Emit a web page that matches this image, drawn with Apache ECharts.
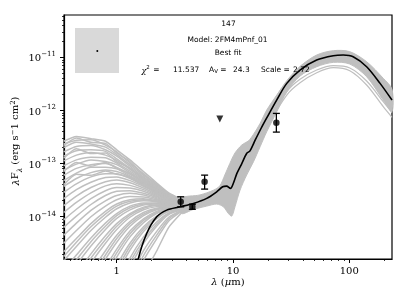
<!DOCTYPE html>
<html><head><meta charset="utf-8">
<script src="https://cdn.jsdelivr.net/npm/echarts/dist/echarts.min.js"></script>
<style>html,body{margin:0;padding:0;background:#fff}#c{width:406px;height:303px}</style>
</head><body><div id="c"></div>
<script>
// ---- axis ranges (wavelength in micron, flux in erg s^-1 cm^-2) ----
const xRange = [0.352, 233];
const yRange = [1.6e-15, 6.27e-11];
const xTickValues = [1, 10, 100];
const xTickLabels = ['1', '10', '100'];
const xMinorTicks = [0.4,0.5,0.6,0.7,0.8,0.9,2,3,4,5,6,7,8,9,20,30,40,50,60,70,80,90,200];
const yTickExponents = [-14, -13, -12, -11];
const yMinorTicks = [2e-15,3e-15,4e-15,5e-15,6e-15,7e-15,8e-15,9e-15,
  2e-14,3e-14,4e-14,5e-14,6e-14,7e-14,8e-14,9e-14,
  2e-13,3e-13,4e-13,5e-13,6e-13,7e-13,8e-13,9e-13,
  2e-12,3e-12,4e-12,5e-12,6e-12,7e-12,8e-12,9e-12,
  2e-11,3e-11,4e-11,5e-11,6e-11];

// ---- short-wavelength fan of model SEDs (log10 of lambda F_lambda) ----
const fanWave = [0.35,0.45,0.6,0.8,1.0,1.3,1.7,2.2,2.8,3.6];
const fanLines = [
  [-12.58,-12.49,-12.53,-12.58,-12.74,-12.93,-13.15,-13.36,-13.55,-13.67],
  [-12.63,-12.56,-12.55,-12.65,-12.78,-12.99,-13.19,-13.39,-13.57,-13.69],
  [-12.66,-12.52,-12.60,-12.62,-12.80,-12.96,-13.21,-13.38,-13.58,-13.69],
  [-12.70,-12.60,-12.63,-12.69,-12.83,-13.02,-13.22,-13.41,-13.59,-13.70],
  [-12.78,-12.68,-12.66,-12.74,-12.86,-13.05,-13.25,-13.43,-13.60,-13.71],
  [-12.86,-12.76,-12.74,-12.77,-12.91,-13.09,-13.27,-13.45,-13.61,-13.71],
  [-12.90,-12.72,-12.81,-12.80,-12.97,-13.08,-13.30,-13.46,-13.62,-13.72],
  [-12.95,-12.84,-12.79,-12.84,-12.94,-13.11,-13.29,-13.46,-13.62,-13.72],
  [-13.04,-12.93,-12.88,-12.89,-12.99,-13.14,-13.31,-13.48,-13.63,-13.72],
  [-13.12,-13.01,-12.93,-12.96,-13.02,-13.17,-13.33,-13.49,-13.64,-13.73],
  [-13.15,-12.98,-13.05,-12.98,-13.09,-13.19,-13.36,-13.50,-13.65,-13.73],
  [-13.22,-13.09,-13.02,-13.00,-13.07,-13.20,-13.35,-13.51,-13.65,-13.73],
  [-13.32,-13.18,-13.07,-13.07,-13.10,-13.23,-13.37,-13.52,-13.66,-13.74],
  [-13.40,-13.20,-13.22,-13.14,-13.20,-13.26,-13.42,-13.54,-13.67,-13.74],
  [-13.43,-13.28,-13.17,-13.12,-13.15,-13.25,-13.39,-13.53,-13.67,-13.74],
  [-13.54,-13.38,-13.25,-13.19,-13.19,-13.28,-13.41,-13.55,-13.68,-13.75],
  [-13.66,-13.49,-13.35,-13.26,-13.25,-13.32,-13.43,-13.56,-13.68,-13.75],
  [-13.79,-13.61,-13.45,-13.34,-13.31,-13.36,-13.46,-13.58,-13.69,-13.76],
  [-13.92,-13.73,-13.55,-13.42,-13.38,-13.41,-13.49,-13.60,-13.70,-13.76],
  [-14.06,-13.86,-13.66,-13.51,-13.45,-13.46,-13.52,-13.62,-13.71,-13.77],
  [-14.20,-13.99,-13.77,-13.60,-13.52,-13.51,-13.56,-13.64,-13.72,-13.77],
  [-14.35,-14.12,-13.88,-13.70,-13.60,-13.56,-13.59,-13.66,-13.73,-13.78],
  [-14.50,-14.26,-14.00,-13.80,-13.68,-13.62,-13.63,-13.68,-13.74,-13.78],
  [-14.66,-14.41,-14.13,-13.90,-13.76,-13.68,-13.66,-13.70,-13.75,-13.79],
  [-14.75,-14.48,-14.19,-13.95,-13.80,-13.71,-13.68,-13.71,-13.75,-13.79],
  [-14.83,-14.56,-14.26,-14.01,-13.85,-13.74,-13.70,-13.72,-13.76,-13.79],
  [-15.00,-14.72,-14.40,-14.12,-13.94,-13.80,-13.74,-13.74,-13.77,-13.80],
  [-15.10,-14.81,-14.47,-14.18,-13.98,-13.83,-13.76,-13.75,-13.77,-13.80],
  [-15.20,-14.90,-14.55,-14.24,-14.03,-13.87,-13.78,-13.76,-13.78,-13.80],
  [-15.40,-15.08,-14.70,-14.36,-14.13,-13.94,-13.82,-13.78,-13.79,-13.81],
  [-15.52,-15.18,-14.78,-14.43,-14.18,-13.97,-13.84,-13.79,-13.79,-13.81],
  [-15.65,-15.28,-14.87,-14.50,-14.24,-14.01,-13.87,-13.81,-13.80,-13.81],
  [-15.90,-15.50,-15.05,-14.64,-14.35,-14.09,-13.92,-13.84,-13.81,-13.82],
  [-16.05,-15.62,-15.15,-14.72,-14.41,-14.13,-13.95,-13.85,-13.82,-13.82],
  [-16.20,-15.75,-15.25,-14.80,-14.48,-14.18,-13.98,-13.87,-13.83,-13.82],
  [-16.50,-16.00,-15.45,-14.96,-14.61,-14.27,-14.04,-13.90,-13.84,-13.83],
  [-16.68,-16.15,-15.58,-15.05,-14.68,-14.32,-14.07,-13.92,-13.85,-13.83],
  [-16.85,-16.30,-15.70,-15.15,-14.76,-14.38,-14.11,-13.94,-13.86,-13.83],
  [-17.20,-16.60,-15.95,-15.35,-14.92,-14.50,-14.19,-13.99,-13.88,-13.84],
  [-17.40,-16.78,-16.10,-15.46,-15.01,-14.56,-14.23,-14.01,-13.89,-13.84],
  [-17.60,-16.95,-16.25,-15.58,-15.10,-14.63,-14.28,-14.04,-13.90,-13.85],
  [-18.00,-17.30,-16.55,-15.82,-15.30,-14.78,-14.38,-14.10,-13.93,-13.86],
  [-18.25,-17.50,-16.72,-15.96,-15.41,-14.86,-14.44,-14.14,-13.94,-13.86],
  [-18.50,-17.70,-16.90,-16.10,-15.52,-14.95,-14.50,-14.18,-13.96,-13.87],
  [-19.00,-18.20,-17.30,-16.40,-15.78,-15.15,-14.64,-14.28,-14.01,-13.88],
  [-19.30,-18.45,-17.50,-16.60,-15.94,-15.27,-14.73,-14.35,-14.04,-13.89],
  [-19.60,-18.70,-17.70,-16.80,-16.10,-15.40,-14.82,-14.42,-14.08,-13.90],
  [-20.50,-19.50,-18.40,-17.40,-16.60,-15.80,-15.10,-14.65,-14.20,-13.93]
];

// ---- envelope of model SEDs at longer wavelengths (log10 flux) ----
const bandUpperWave = [3.6,5.2,6.8,7.7,8.5,9.4,10.4,11.9,13.6,15.0,17.1,19.5,23.8,29.0,37.7,52.5,73,101,141,196,233];
const bandUpperFlux = [-13.655,-13.59,-13.50,-13.42,-13.216,-12.996,-12.80,-12.65,-12.57,-12.45,-12.243,-11.992,-11.709,-11.44,-11.17,-10.956,-10.874,-10.893,-11.082,-11.395,-11.603];
const bandLowerWave = [3.6,4.56,5.94,7.24,8.26,9.12,9.75,10.4,11.5,13.1,15.0,17.1,19.5,23.8,29.0,37.7,52.5,73,101,141,196,233];
const bandLowerFlux = [-13.938,-13.863,-13.800,-13.762,-13.812,-13.938,-13.988,-13.812,-13.498,-13.216,-12.965,-12.682,-12.400,-12.023,-11.65,-11.352,-11.176,-11.094,-11.126,-11.364,-11.804,-12.023];

// ---- two separate faint models in the far-IR ----
const sepWave = [19.5,29.0,37.7,52.5,73,101,141,196,233];
const sepFluxA = [-12.31,-11.709,-11.477,-11.289,-11.195,-11.251,-11.521,-11.929,-12.130];
const sepFluxB = [-12.25,-11.647,-11.414,-11.239,-11.157,-11.201,-11.446,-11.835,-12.042];

// ---- best fit model (log10 flux) ----
const bestWave = [1.40,1.53,1.81,2.21,2.69,3.50,4.56,5.94,7.24,8.15,8.8,9.5,10.07,10.8,11.9,13.1,14.0,15.5,17.5,19.5,23.8,29.0,37.7,52.4,72.8,88.7,108,141,184,233];
const bestFlux = [-15.3,-14.80,-14.315,-14.002,-13.876,-13.814,-13.750,-13.655,-13.531,-13.437,-13.424,-13.467,-13.37,-13.185,-13.0,-12.81,-12.76,-12.56,-12.33,-12.14,-11.80,-11.49,-11.239,-11.051,-10.970,-10.957,-10.989,-11.177,-11.490,-11.804];

// ---- observed fluxes (log10) ----
const obsWave = [3.55, 4.47, 5.7, 23.6];
const obsFlux = [-13.719, -13.813, -13.343, -12.232];
const obsLow  = [-13.814, -13.86, -13.480, -12.407];
const obsHigh = [-13.625, -13.765, -13.217, -12.055];
const limWave = [7.7];
const limFlux = [-12.162];

const L = Math.log10;
const pair = (w, f) => w.map((x, i) => [L(x), f[i]]);
const GRAY = '#bfbfbf';
const SERIF = 'DejaVu Serif';
const SANS = 'DejaVu Sans';

const series = [];
fanLines.forEach(f => series.push({
  type: 'line', data: pair(fanWave, f), showSymbol: false, smooth: 0.2,
  lineStyle: {color: GRAY, width: 1.5}, z: 1, silent: true, animation: false, clip: true
}));
const bandPts = pair(bandUpperWave, bandUpperFlux).concat(pair(bandLowerWave, bandLowerFlux).reverse());
series.push({
  type: 'custom', data: [[0, 0]], z: 1, silent: true, animation: false,
  renderItem: (p, api) => ({type: 'polygon', shape: {points: bandPts.map(q => api.coord(q)), smooth: 0.3},
    style: {fill: GRAY, stroke: GRAY, lineWidth: 1}})
});
[sepFluxA, sepFluxB].forEach(f => series.push({
  type: 'line', data: pair(sepWave, f), showSymbol: false, smooth: 0.3,
  lineStyle: {color: GRAY, width: 1.2}, z: 1, silent: true, animation: false
}));
series.push({
  type: 'line', data: pair(bestWave, bestFlux), showSymbol: false, smooth: 0.3,
  lineStyle: {color: '#000', width: 1.6}, z: 3, silent: true, animation: false, clip: true
});
series.push({
  type: 'custom', z: 4, silent: true, animation: false,
  data: obsWave.map((w, i) => [L(w), obsLow[i], obsHigh[i]]),
  renderItem: (p, api) => {
    const a = api.coord([api.value(0), api.value(1)]);
    const b = api.coord([api.value(0), api.value(2)]);
    const st = {stroke: '#000', lineWidth: 1.3};
    return {type: 'group', children: [
      {type: 'line', shape: {x1: a[0], y1: a[1], x2: b[0], y2: b[1]}, style: st},
      {type: 'line', shape: {x1: a[0]-3.5, y1: a[1], x2: a[0]+3.5, y2: a[1]}, style: st},
      {type: 'line', shape: {x1: b[0]-3.5, y1: b[1], x2: b[0]+3.5, y2: b[1]}, style: st}
    ]};
  }
});
series.push({
  type: 'scatter', data: pair(obsWave, obsFlux), symbol: 'circle', symbolSize: 6.5,
  itemStyle: {color: '#000'}, z: 5, silent: true, animation: false
});
series.push({
  type: 'scatter', data: pair(limWave, limFlux), symbol: 'triangle', symbolRotate: 180, symbolSize: 7,
  itemStyle: {color: '#000'}, z: 5, silent: true, animation: false
});

const yLabelRich = {
  b: {fontSize: 10, fontFamily: SERIF, color: '#000', verticalAlign: 'bottom'},
  s: {fontSize: 7, fontFamily: SERIF, color: '#000', verticalAlign: 'bottom', padding: [0, 0, 6, 0]}
};

const option = {
  backgroundColor: '#fff',
  animation: false,
  grid: {left: 64, top: 15, width: 328, height: 244, show: true, borderColor: '#000', borderWidth: 1.2, backgroundColor: 'transparent'},
  xAxis: [
    {type: 'value', min: L(xRange[0]), max: L(xRange[1]),
      axisLine: {show: true, onZero: false, lineStyle: {color: '#000', width: 1.2}},
      axisTick: {show: true, customValues: xTickValues.map(L), length: 4, lineStyle: {color: '#000', width: 1}},
      axisLabel: {show: true, customValues: xTickValues.map(L), margin: 7, color: '#000', fontSize: 10, fontFamily: SERIF,
        formatter: v => xTickLabels[xTickValues.findIndex(t => Math.abs(L(t) - v) < 1e-6)] || ''},
      splitLine: {show: false}},
    {type: 'value', min: L(xRange[0]), max: L(xRange[1]), position: 'bottom',
      axisLine: {show: false, onZero: false},
      axisTick: {show: true, customValues: xMinorTicks.map(L), length: 2, lineStyle: {color: '#000', width: 0.8}},
      axisLabel: {show: false}, splitLine: {show: false}}
  ],
  yAxis: [
    {type: 'value', min: L(yRange[0]), max: L(yRange[1]),
      axisLine: {show: true, onZero: false, lineStyle: {color: '#000', width: 1.2}},
      axisTick: {show: true, customValues: yTickExponents, length: 4, lineStyle: {color: '#000', width: 1}},
      axisLabel: {show: true, customValues: yTickExponents, margin: 8, color: '#000',
        formatter: v => '{b|10}{s|\u2212' + Math.abs(Math.round(v)) + '}', rich: yLabelRich},
      splitLine: {show: false}},
    {type: 'value', min: L(yRange[0]), max: L(yRange[1]), position: 'left', offset: 0,
      axisLine: {show: false, onZero: false},
      axisTick: {show: true, customValues: yMinorTicks.map(L), length: 2, lineStyle: {color: '#000', width: 0.8}},
      axisLabel: {show: false}, splitLine: {show: false}}
  ],
  graphic: [
    {type: 'rect', z: 0, shape: {x: 75, y: 28, width: 44, height: 45}, style: {fill: '#d9d9d9'}},
    {type: 'circle', z: 0, shape: {cx: 97.3, cy: 51, r: 1}, style: {fill: '#000'}},
    {type: 'text', z: 100, x: 228.5, y: 24.5, style: {text: '147', fontSize: 7.5, fontFamily: SANS, fill: '#000', align: 'center', verticalAlign: 'middle'}},
    {type: 'text', z: 100, x: 227.5, y: 40, style: {text: 'Model: 2FM4mPnf_01', fontSize: 7.5, fontFamily: SANS, fill: '#000', align: 'center', verticalAlign: 'middle'}},
    {type: 'text', z: 100, x: 228, y: 53.5, style: {text: 'Best fit', fontSize: 7.5, fontFamily: SANS, fill: '#000', align: 'center', verticalAlign: 'middle'}},
    {type: 'text', z: 100, x: 141.5, y: 70, style: {text: '{i|\u03c7}{p|2} =', fontSize: 7.5, fontFamily: SANS, fill: '#000', align: 'left', verticalAlign: 'middle',
      rich: {i: {fontSize: 8, fontFamily: SERIF, fontStyle: 'italic', verticalAlign: 'bottom'}, p: {fontSize: 5.5, fontFamily: SANS, verticalAlign: 'bottom', padding: [0, 1, 4, 0]}}}},
    {type: 'text', z: 100, x: 173, y: 70, style: {text: '11.537', fontSize: 7.5, fontFamily: SANS, fill: '#000', align: 'left', verticalAlign: 'middle'}},
    {type: 'text', z: 100, x: 209, y: 70, style: {text: 'A{v|V} =', fontSize: 7.5, fontFamily: SANS, fill: '#000', align: 'left', verticalAlign: 'middle',
      rich: {v: {fontSize: 5.5, fontFamily: SANS, verticalAlign: 'top', padding: [3, 0, 0, 0]}}}},
    {type: 'text', z: 100, x: 233, y: 70, style: {text: '24.3', fontSize: 7.5, fontFamily: SANS, fill: '#000', align: 'left', verticalAlign: 'middle'}},
    {type: 'text', z: 100, x: 261, y: 70, style: {text: 'Scale =', fontSize: 7.5, fontFamily: SANS, fill: '#000', align: 'left', verticalAlign: 'middle'}},
    {type: 'text', z: 100, x: 293, y: 70, style: {text: '2.72', fontSize: 7.5, fontFamily: SANS, fill: '#000', align: 'left', verticalAlign: 'middle'}},
    {type: 'text', z: 100, x: 228, y: 282, style: {text: '{i|\u03bb} ({i|\u03bc}m)', fontSize: 10, fontFamily: SERIF, fill: '#000', align: 'center', verticalAlign: 'middle',
      rich: {i: {fontSize: 10, fontFamily: SERIF, fontStyle: 'italic'}}}},
    {type: 'text', z: 100, x: 15.5, y: 141, rotation: Math.PI / 2, style: {
      text: '{i|\u03bb}F{d|\u03bb} (erg s{u|\u2212}1 cm{u|2})', fontSize: 10, fontFamily: SERIF, fill: '#000', align: 'center', verticalAlign: 'middle',
      rich: {i: {fontSize: 10, fontFamily: SERIF, fontStyle: 'italic', verticalAlign: 'bottom'},
             d: {fontSize: 7, fontFamily: SERIF, fontStyle: 'italic', verticalAlign: 'bottom', padding: [0, 0, -2, 0]},
             u: {fontSize: 7, fontFamily: SERIF, verticalAlign: 'bottom', padding: [0, 0, 5, 0]}}}}
  ],
  series: series.map(s => Object.assign({xAxisIndex: 0, yAxisIndex: 0}, s))
};
const chart = echarts.init(document.getElementById('c'), null, {renderer: 'canvas'});
chart.setOption(option);
</script></body></html>
